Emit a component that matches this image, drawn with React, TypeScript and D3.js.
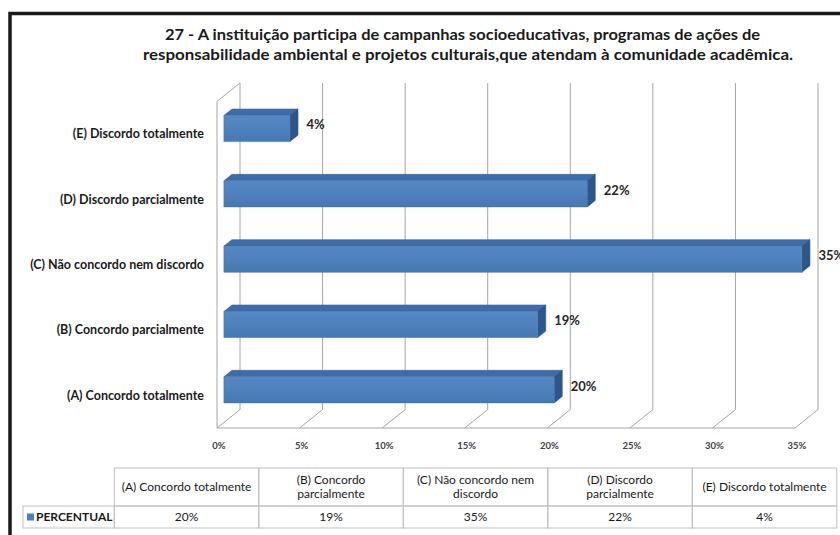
import React from "react";
import * as d3 from "d3";

const titleLines = [
  "27 - A instituição participa de campanhas socioeducativas, programas de ações de",
  "responsabilidade ambiental e projetos culturais,que atendam à comunidade acadêmica.",
];
const categories = [
  "(A) Concordo totalmente",
  "(B) Concordo parcialmente",
  "(C) Não concordo nem discordo",
  "(D) Discordo parcialmente",
  "(E) Discordo totalmente",
];
const values = [20, 19, 35, 22, 4];
const xTicks = [0, 5, 10, 15, 20, 25, 30, 35];
const tableHeaders = [
  ["(A) Concordo totalmente"],
  ["(B) Concordo", "parcialmente"],
  ["(C) Não concordo nem", "discordo"],
  ["(D) Discordo", "parcialmente"],
  ["(E) Discordo totalmente"],
];
const seriesName = "PERCENTUAL";

const W = 840;
const H = 535;
const FONT = "Lato, 'Open Sans', sans-serif";
const DX = 23;
const DY = -18.4;
const Z0 = 0.3;
const Z1 = 0.65;

export default function App() {
  const x = d3.scaleLinear().domain([0, 35]).range([217, 795]);
  const y = d3
    .scaleBand<string>()
    .domain([...categories].reverse())
    .range([101.4, 428])
    .padding(0);
  const barH = y.bandwidth() * 0.4;
  const P = (v: number, yy: number, z: number): [number, number] => [
    x(v) + DX * z,
    yy + DY * z,
  ];
  const poly = (pts: [number, number][]) =>
    pts.map((p) => p.map((n) => n.toFixed(2)).join(",")).join(" ");

  const yTop = y.range()[0];
  const yBot = y.range()[1];
  const grid = "#a6a6a6";

  const tx = d3
    .scaleBand<string>()
    .domain(categories)
    .range([114.3, 836.8]);
  const tTop = 468;
  const tMid = 506;
  const tBot = 528;
  const tLeft = 23;
  const tBorder = "#c0c0c0";

  return (
    <svg
      width={W}
      height={H}
      style={{ position: "absolute", left: 0, top: 0, background: "#fff" }}
      fontFamily={FONT}
    >
      <rect x={0} y={0} width={W} height={H} fill="#fff" />
      {/* frame */}
      <rect
        x={10}
        y={13.5}
        width={W + 20}
        height={H + 20}
        fill="none"
        stroke="#1a1a1a"
        strokeWidth={3.5}
      />
      {/* title */}
      {titleLines.map((t, i) => (
        <text
          key={i}
          x={i === 0 ? 165 : 143}
          y={40 + i * 20}
          fontSize={16}
          fontWeight="bold"
          fill="#1a1a1a"
          textLength={i === 0 ? 595 : 650}
          lengthAdjust="spacingAndGlyphs"
        >
          {t}
        </text>
      ))}

      {/* back wall gridlines */}
      {xTicks.map((t) => {
        const a = P(t, yTop, 1);
        const b = P(t, yBot, 1);
        return (
          <line key={"g" + t} x1={a[0]} y1={a[1]} x2={b[0]} y2={b[1]} stroke={grid} strokeWidth={1} />
        );
      })}
      {/* floor diagonals */}
      {xTicks.map((t) => {
        const a = P(t, yBot, 0);
        const b = P(t, yBot, 1);
        return (
          <line key={"f" + t} x1={a[0]} y1={a[1]} x2={b[0]} y2={b[1]} stroke={grid} strokeWidth={1} />
        );
      })}
      {/* floor front edge */}
      {(() => {
        const a = P(0, yBot, 0);
        const b = P(35, yBot, 0);
        return <line x1={a[0]} y1={a[1]} x2={b[0]} y2={b[1]} stroke={grid} strokeWidth={1} />;
      })()}
      {/* side wall */}
      {(() => {
        const a = P(0, yTop, 0);
        const b = P(0, yBot, 0);
        const c = P(0, yTop, 1);
        return (
          <g>
            <line x1={a[0]} y1={a[1]} x2={b[0]} y2={b[1]} stroke={grid} strokeWidth={1} />
            <line x1={a[0]} y1={a[1]} x2={c[0]} y2={c[1]} stroke={grid} strokeWidth={1} />
          </g>
        );
      })()}

      <defs>
        <linearGradient id="frontGrad" x1="0" y1="0" x2="0" y2="1">
          <stop offset="0" stopColor="#5688c4" />
          <stop offset="0.5" stopColor="#4f81bd" />
          <stop offset="1" stopColor="#4677b2" />
        </linearGradient>
      </defs>

      {/* bars */}
      {categories.map((c, i) => {
        const v = values[i];
        const cy = (y(c) as number) + y.bandwidth() / 2;
        const yt = cy - barH / 2;
        const yb = cy + barH / 2;
        const front = [P(0, yt, Z0), P(v, yt, Z0), P(v, yb, Z0), P(0, yb, Z0)];
        const top = [P(0, yt, Z0), P(v, yt, Z0), P(v, yt, Z1), P(0, yt, Z1)];
        const side = [P(v, yt, Z0), P(v, yt, Z1), P(v, yb, Z1), P(v, yb, Z0)];
        const lab = P(v, cy, 0.5);
        return (
          <g key={c}>
            <polygon points={poly(top)} fill="#3e6ca6" stroke="#3a659c" strokeWidth={0.6} />
            <polygon points={poly(side)} fill="#2d578a" stroke="#2a5282" strokeWidth={0.6} />
            <polygon points={poly(front)} fill="url(#frontGrad)" stroke="#4a7ab3" strokeWidth={0.6} />
            <text
              x={lab[0] + 12}
              y={lab[1]}
              dy="0.35em"
              fontSize={13}
              fontWeight="bold"
              fill="#262626"
            >
              {v + "%"}
            </text>
          </g>
        );
      })}

      {/* category labels */}
      {categories.map((c) => (
        <text
          key={"l" + c}
          x={204}
          y={(y(c) as number) + y.bandwidth() / 2}
          dy="0.35em"
          textAnchor="end"
          fontSize={12.5}
          fontWeight="bold"
          fill="#1a1a1a"
        >
          {c}
        </text>
      ))}

      {/* x tick labels */}
      {xTicks.map((t) => (
        <text
          key={"t" + t}
          x={x(t) + 2}
          y={446}
          dy="0.35em"
          textAnchor="middle"
          fontSize={9.5}
          fontWeight="bold"
          fill="#404040"
        >
          {t + "%"}
        </text>
      ))}

      {/* data table */}
      <g>
        {categories.map((c, i) => {
          const x0 = tx(c) as number;
          const w = tx.bandwidth();
          const lines = tableHeaders[i];
          const mid = (tTop + tMid) / 2;
          return (
            <g key={"tc" + c}>
              <rect x={x0} y={tTop} width={w} height={tMid - tTop} fill="none" stroke={tBorder} />
              <rect x={x0} y={tMid} width={w} height={tBot - tMid} fill="none" stroke={tBorder} />
              {lines.map((ln, j) => (
                <text
                  key={j}
                  x={x0 + w / 2}
                  y={mid + (j - (lines.length - 1) / 2) * 14}
                  dy="0.35em"
                  textAnchor="middle"
                  fontSize={12}
                  fill="#1a1a1a"
                >
                  {ln}
                </text>
              ))}
              <text
                x={x0 + w / 2}
                y={(tMid + tBot) / 2}
                dy="0.35em"
                textAnchor="middle"
                fontSize={12}
                fill="#1a1a1a"
              >
                {values[i] + "%"}
              </text>
            </g>
          );
        })}
        <rect
          x={tLeft}
          y={tMid}
          width={(tx(categories[0]) as number) - tLeft}
          height={tBot - tMid}
          fill="none"
          stroke={tBorder}
        />
        <rect x={tLeft + 4} y={(tMid + tBot) / 2 - 3.5} width={7} height={7} fill="#4f81bd" />
        <text
          x={tLeft + 13}
          y={(tMid + tBot) / 2}
          dy="0.35em"
          fontSize={12}
          fontWeight="bold"
          fill="#1a1a1a"
        >
          {seriesName}
        </text>
      </g>
    </svg>
  );
}
